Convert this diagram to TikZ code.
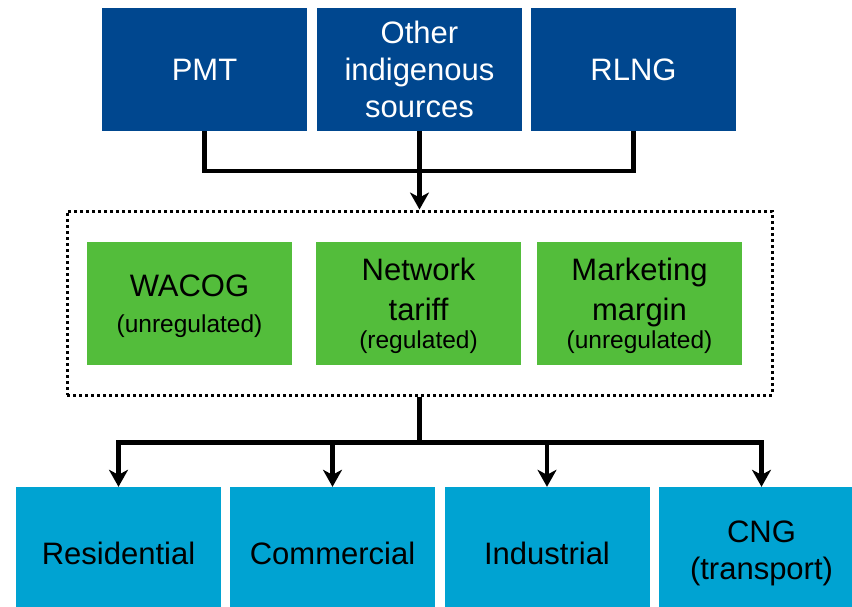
\documentclass[tikz,border=0pt]{standalone}
\usepackage{fontspec}
\setmainfont{Liberation Sans}
\usetikzlibrary{arrows.meta}

\definecolor{srcblue}{RGB}{0,71,143}
\definecolor{costgreen}{RGB}{83,189,59}
\definecolor{usecyan}{RGB}{0,163,210}

\begin{document}
\begin{tikzpicture}[x=1pt,y=-1pt,>={Stealth[length=17pt,width=19pt,inset=5pt]},
	box/.style={rectangle,inner sep=0pt,minimum width=205pt,align=center,
		font=\fontsize{31}{37}\selectfont},
	source/.style={box,fill=srcblue,text=white,minimum height=123pt,text depth=-6pt},
	cost/.style={box,fill=costgreen,minimum height=123pt,text depth=-5pt},
	sector/.style={box,fill=usecyan,minimum height=132pt},
	frame/.style={draw,line width=3pt,dash pattern=on 3pt off 3pt,
		minimum width=705pt,minimum height=184pt,inner sep=0pt},
	link/.style={line width=4.5pt}]
				\useasboundingbox (0,0) rectangle (852,606);
				\node[source] (pmt) at (204.5,69.5) {PMT};
				\node[source] (other) at (419.5,69.5) {Other\\indigenous\\sources};
				\node[source] (rlng) at (633.5,69.5) {RLNG};
				\node[frame] (price) at (419.5,303) {};
				\node[cost] (wacog) at (189.5,303.5) {WACOG\\[-1pt]{\fontsize{24.5}{28}\selectfont(unregulated)}};
				\node[cost] (tariff) at (418.5,303.5) {Network\\[3pt]tariff\\[-9pt]{\fontsize{24.5}{28}\selectfont(regulated)}};
				\node[cost] (margin) at (639.5,303.5) {Marketing\\[3pt]margin\\[-9pt]{\fontsize{24.5}{28}\selectfont(unregulated)}};
				\node[sector] (res) at (118.5,553) {Residential};
				\node[sector] (com) at (332.5,553) {Commercial};
				\node[sector] (ind) at (547,553) {Industrial};
				\node[sector] (cng) at (761.5,553) {CNG\\(transport)};
				\draw[link] (pmt.south) -- ++(0,40) -| (rlng.south);
				\draw[link,->] (other.south) -- (price.north);
				\draw[link] (price.south) -- ++(0,46) coordinate (hub);
				\foreach \s in {res,com,ind,cng}
					\draw[link,->] (hub) -| (\s.north);
			\end{tikzpicture}
\end{document}
